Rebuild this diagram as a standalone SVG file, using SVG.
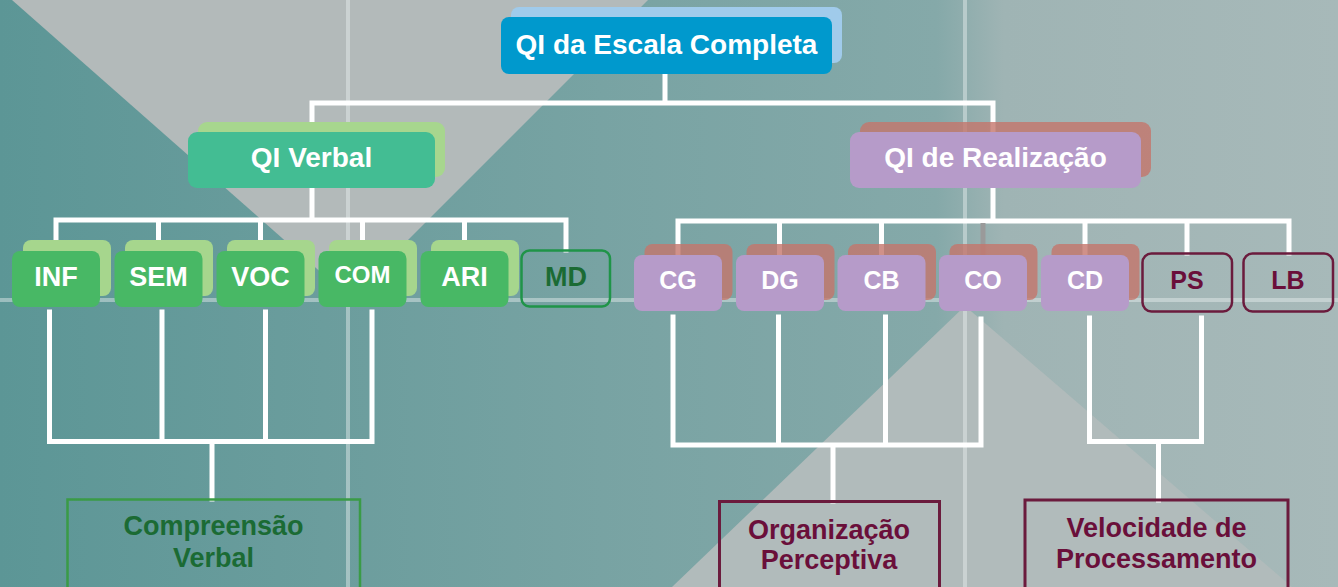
<svg xmlns="http://www.w3.org/2000/svg" width="1338" height="587" viewBox="0 0 1338 587">
<defs>
<linearGradient id="bg" x1="0" y1="0" x2="1338" y2="0" gradientUnits="userSpaceOnUse">
<stop offset="0" stop-color="#5c9696"/>
<stop offset="0.45" stop-color="#78a3a3"/>
<stop offset="0.70" stop-color="#85a9a9"/>
<stop offset="0.75" stop-color="#9fb4b4"/>
<stop offset="1" stop-color="#a7b9b9"/>
</linearGradient>
<style>
text{font-family:"Liberation Sans",Arial,sans-serif;font-weight:bold;text-anchor:middle}
.w{fill:#ffffff}
.grid{stroke:#e8f0f0;stroke-opacity:0.45;stroke-width:4;fill:none}
.con{stroke:#ffffff;stroke-width:5;fill:none;stroke-linejoin:miter;stroke-linecap:square}
.gmain{fill:#48b865}
.gback{fill:#a6d68d}
.pmain{fill:#b69bc9}
.pback{fill:#c4766b;fill-opacity:0.8}
.pout{fill:none;stroke:#6b1b3d;stroke-width:2.5}
.ptxt{fill:#6a0f3a}
.gtxt{fill:#1b6b34}
.l1{font-size:28px}
.l2{font-size:27px}
.l3{font-size:25px}
.lb{font-size:27px}
</style>
</defs>
<g id="background">
<rect x="0" y="0" width="1338" height="587" fill="url(#bg)"/>
<polygon points="12,0 648,0 350,298" fill="#b3baba"/>
<polygon points="965,306 672,587 1292,587" fill="#b1bbbb"/>
<line class="grid" x1="348" y1="0" x2="348" y2="587"/>
<line class="grid" x1="965" y1="0" x2="965" y2="587"/>
<line class="grid" x1="0" y1="300" x2="1338" y2="300"/>
</g>
<g id="connectors">
<path class="con" d="M665,74 V103 M312,122 V103 H993 V132"/>
<path class="con" d="M312,188 V220 M56,240 V220 H566 V250 M158.5,220 V240 M260.5,220 V240 M362.5,220 V240 M464.5,220 V240"/>
<path class="con" d="M993,188 V221 M678,255 V221 H1289 V253 M779.5,221 V255 M881.5,221 V255 M1085,221 V255 M1187,221 V253"/>
<path d="M983,223 V255" stroke="#9a9a9a" stroke-width="5" fill="none"/>
<path class="con" d="M49.5,312 V441.5 H372 V312 M162,312 V441.5 M265.5,312 V441.5 M212,441.5 V499"/>
<path class="con" d="M673,317 V445 H981 V319 M778.5,317 V445 M885.5,317 V445 M833,445 V501"/>
<path class="con" d="M1089.5,318 V441.5 H1201.5 V318 M1158.5,441.5 V500"/>
</g>
<g id="qi-escala">
<rect x="511" y="7" width="331" height="56" rx="8" fill="#a0cbeb"/>
<rect x="501" y="17" width="331" height="57" rx="8" fill="#0099cd"/>
<text class="w l1" x="666.5" y="54">QI da Escala Completa</text>
</g>
<g id="qi-verbal">
<rect x="198" y="122" width="247" height="55" rx="9" fill="#a7d68e"/>
<rect x="188" y="132" width="247" height="56" rx="9" fill="#43bd93"/>
<text class="w l1" x="311.5" y="167">QI Verbal</text>
</g>
<g id="qi-realizacao">
<rect x="860" y="122" width="291" height="55" rx="9" class="pback"/>
<rect x="850" y="132" width="291" height="56" rx="9" class="pmain"/>
<text class="w l1" x="995.5" y="167">QI de Realização</text>
</g>
<g id="inf">
<rect x="23" y="240" width="88" height="56" rx="8" class="gback"/>
<rect x="12" y="251" width="88" height="56" rx="8" class="gmain"/>
<text class="w l2" x="56" y="286">INF</text>
</g>
<g id="sem">
<rect x="125" y="240" width="88" height="56" rx="8" class="gback"/>
<rect x="114.5" y="251" width="88" height="56" rx="8" class="gmain"/>
<text class="w l2" x="158.5" y="286">SEM</text>
</g>
<g id="voc">
<rect x="227" y="240" width="88" height="56" rx="8" class="gback"/>
<rect x="216.5" y="251" width="88" height="56" rx="8" class="gmain"/>
<text class="w l2" x="260.5" y="286">VOC</text>
</g>
<g id="com">
<rect x="329" y="240" width="88" height="56" rx="8" class="gback"/>
<rect x="318.5" y="251" width="88" height="56" rx="8" class="gmain"/>
<text class="w" style="font-size:24px" x="362.5" y="283">COM</text>
</g>
<g id="ari">
<rect x="431" y="240" width="88" height="56" rx="8" class="gback"/>
<rect x="420.5" y="251" width="88" height="56" rx="8" class="gmain"/>
<text class="w l2" x="464.5" y="286">ARI</text>
</g>
<g id="md">
<rect x="521.5" y="250.5" width="88.5" height="56" rx="8" fill="none" stroke="#1f9448" stroke-width="2.5"/>
<text class="gtxt l2" x="566" y="286">MD</text>
</g>
<g id="cg">
<rect x="644.5" y="244" width="88" height="56" rx="8" class="pback"/>
<rect x="634" y="255" width="88" height="56" rx="8" class="pmain"/>
<text class="w l3" x="678" y="289">CG</text>
</g>
<g id="dg">
<rect x="746.5" y="244" width="88" height="56" rx="8" class="pback"/>
<rect x="736" y="255" width="88" height="56" rx="8" class="pmain"/>
<text class="w l3" x="780" y="289">DG</text>
</g>
<g id="cb">
<rect x="848" y="244" width="88" height="56" rx="8" class="pback"/>
<rect x="837.5" y="255" width="88" height="56" rx="8" class="pmain"/>
<text class="w l3" x="881.5" y="289">CB</text>
</g>
<g id="co">
<rect x="949.5" y="244" width="88" height="56" rx="8" class="pback"/>
<rect x="939" y="255" width="88" height="56" rx="8" class="pmain"/>
<text class="w l3" x="983" y="289">CO</text>
</g>
<g id="cd">
<rect x="1051.5" y="244" width="88" height="56" rx="8" class="pback"/>
<rect x="1041" y="255" width="88" height="56" rx="8" class="pmain"/>
<text class="w l3" x="1085" y="289">CD</text>
</g>
<g id="ps">
<rect x="1142.5" y="253.5" width="89.5" height="58" rx="9" class="pout"/>
<text class="ptxt l3" x="1187" y="289">PS</text>
</g>
<g id="lb">
<rect x="1243.5" y="253.5" width="89.5" height="58" rx="9" class="pout"/>
<text class="ptxt l3" x="1288" y="289">LB</text>
</g>
<g id="compreensao-verbal">
<rect x="67.5" y="499.5" width="292.5" height="100" fill="none" stroke="#3a9b46" stroke-width="2.5"/>
<text class="gtxt lb" x="213.5" y="535">Compreensão</text>
<text class="gtxt lb" x="213.5" y="566.5">Verbal</text>
</g>
<g id="organizacao-perceptiva">
<rect x="719.5" y="501.5" width="220" height="100" fill="none" stroke="#6b1b3d" stroke-width="3"/>
<text class="ptxt lb" x="829" y="539">Organização</text>
<text class="ptxt lb" x="829" y="569">Perceptiva</text>
</g>
<g id="velocidade-processamento">
<rect x="1025" y="500" width="263" height="100" fill="none" stroke="#6b1b3d" stroke-width="3"/>
<text class="ptxt lb" x="1156.5" y="537">Velocidade de</text>
<text class="ptxt lb" x="1156.5" y="568">Processamento</text>
</g>
</svg>
